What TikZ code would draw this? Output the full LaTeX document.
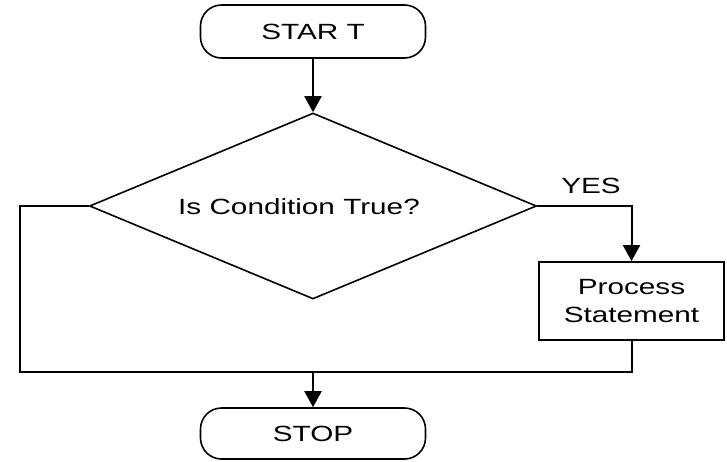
\documentclass[tikz,border=0pt]{standalone}
\usepackage{fontspec}
\setmainfont[FakeStretch=1.35]{Liberation Sans}
\usetikzlibrary{shapes.geometric,arrows.meta}
\begin{document}
\begin{tikzpicture}[x=1pt,y=-1pt,
  every node/.style={font=\fontsize{22}{28}\selectfont},
  terminal/.style={draw,line width=1.6pt,rounded corners=21pt,minimum width=225pt,minimum height=53pt,inner sep=0pt},
  decision/.style={draw,line width=1.6pt,diamond,aspect=2.39,minimum width=447pt,minimum height=186pt,inner sep=0pt},
  procbox/.style={draw,line width=1.8pt,rectangle,minimum width=185pt,minimum height=78pt,inner sep=0pt,align=center},
  plain/.style={inner sep=0pt},
  wire/.style={line width=2pt},
  flow/.style={wire,-{Triangle[width=17pt,length=16pt]}}]
  \useasboundingbox (0,0) rectangle (727,461);
  % shapes
  \node[terminal] (start) at (313,31.5) {STAR T};
  \node[decision] (dec) at (313,206) {};
  \node[plain] (dtext) at (299,207) {Is Condition True?};
  \node[procbox] (proc) at (631.5,301) {Process\\Statement};
  \node[terminal,minimum height=51pt] (stop) at (313,433.5) {STOP};
  \node[plain] (yes) at (591,186) {YES};
  % junction points of the loop
  \coordinate (bl) at (20,372);
  \coordinate (br) at (631.5,372);
  \coordinate (merge) at (313,372);
  % connectors
  \draw[flow] (start.south) -- (dec.north);
  \draw[flow] (dec.east) -| (proc.north);
  \draw[wire] (dec.west) -| (bl) -- (br) -- (proc.south);
  \draw[flow] (merge) -- (stop.north);
\end{tikzpicture}
\end{document}
